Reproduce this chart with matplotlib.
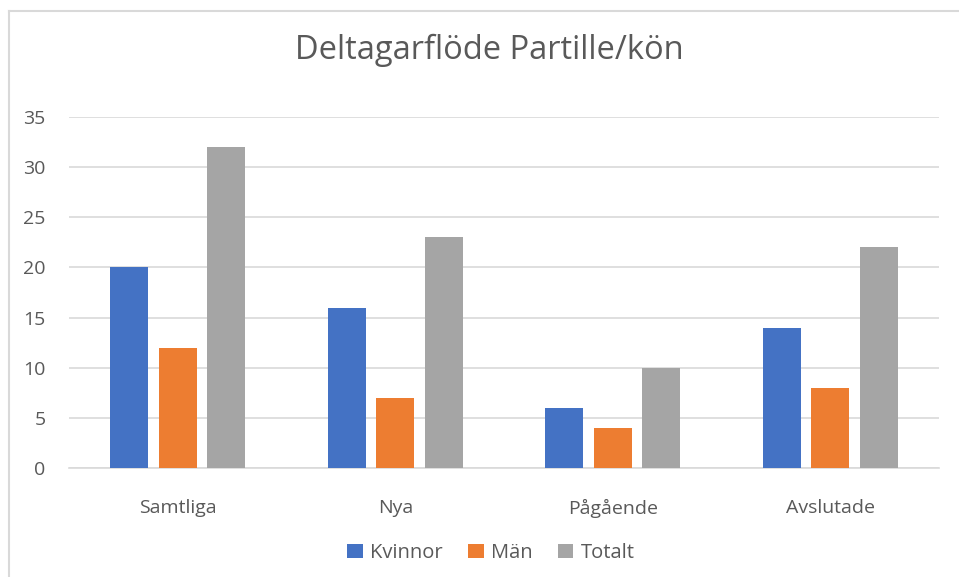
import matplotlib
matplotlib.use("Agg")
import matplotlib.pyplot as plt
import numpy as np
from matplotlib.lines import Line2D

categories = ["Samtliga", "Nya", "Pågående", "Avslutade"]
series_names = ["Kvinnor", "Män", "Totalt"]
kvinnor = [20, 16, 6, 14]
man = [12, 7, 4, 8]
totalt = [32, 23, 10, 22]
yticks = [0, 5, 10, 15, 20, 25, 30, 35]

colors = ["#4472C4", "#ED7D31", "#A5A5A5"]
plt.rcParams['font.family'] = ['Open Sans', 'DejaVu Sans']

fig = plt.figure(figsize=(9.59, 5.77), dpi=100)
ax = fig.add_axes([69/959, 1-468/577, 870/959, (468-117)/577])

x = np.arange(len(categories))
w = 0.175
off = 0.222
for i, (vals, name) in enumerate(zip([kvinnor, man, totalt], series_names)):
    ax.bar(x + (i-1)*off, vals, width=w, color=colors[i], label=name, zorder=3)

ax.set_xlim(-0.5, len(categories)-0.5)
ax.set_ylim(0, 35)
ax.set_yticks(yticks)
ax.set_xticks(x)
ax.set_xticklabels(categories)
ax.grid(axis='y', color='#D9D9D9', linewidth=1.2, zorder=0)
for s in ['top', 'right', 'left']:
    ax.spines[s].set_visible(False)
ax.spines['bottom'].set_color('#D9D9D9')
ax.spines['bottom'].set_linewidth(1.2)
ax.tick_params(axis='both', length=0, labelsize=14, colors='#595959')
ax.tick_params(axis='y', pad=17)
ax.tick_params(axis='x', pad=22)

fig.text(489/959, 1-50/577, "Deltagarflöde Partille/kön", ha='center', va='center',
         fontsize=23.5, color='#595959')

fig.legend(loc='center', bbox_to_anchor=(491/959, 1-553/577), ncol=3, frameon=False,
           fontsize=14.5, handlelength=0.75, handleheight=0.75, columnspacing=1.3,
           handletextpad=0.35, labelcolor='#595959')

# chart border (left and top edges visible)
fig.add_artist(Line2D([8.5/959, 8.5/959], [0, 1-11/577], transform=fig.transFigure,
                      color='#D9D9D9', linewidth=1.5))
fig.add_artist(Line2D([8.5/959, 1], [1-11/577, 1-11/577], transform=fig.transFigure,
                      color='#D9D9D9', linewidth=1.5))

fig.savefig("out.png", dpi=100)
